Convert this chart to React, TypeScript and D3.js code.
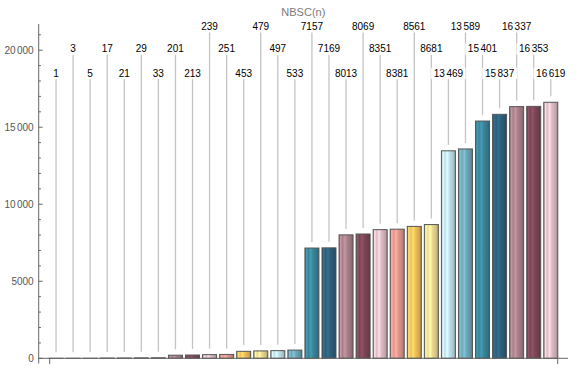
import React from 'react';
import * as d3 from 'd3';

const width = 578;
const height = 374;

const title = 'NBSC(n)';
const values = [1, 3, 5, 17, 21, 29, 33, 201, 213, 239, 251, 453, 479, 497, 533,
    7157, 7169, 8013, 8069, 8351, 8381, 8561, 8681, 13469, 13589, 15401, 15837, 16337, 16353, 16619];
// palette cycles every 10 bars
const palette = ['#e0968c', '#f0be5a', '#ecd890', '#bde0ea', '#6ea6b8',
    '#3a8599', '#2e5e7a', '#a8808a', '#7c4656', '#dcbcc4'];
const yTicks = [0, 5000, 10000, 15000, 20000];
const yMax = 21700;

const x0 = 38.7, yBase = 358.3, yTop = 24;
const rowBaselines = [30, 52.3, 76.7];

// label row: alternate bottom/middle first, then cycle top/middle/bottom
const labelRow = (i: number) => i < 9 ? (i % 2 === 0 ? 2 : 1) : (i - 9) % 3;

const x = d3.scaleBand<number>()
    .domain(values.map((_, i) => i))
    .range([47.5, 559.3])
    .paddingInner(0.18)
    .paddingOuter(0.09);

const y = d3.scaleLinear().domain([0, yMax]).range([yBase, yTop]);

const minorTicks = d3.range(0, yMax, 1000).filter(v => v % 5000 !== 0);

// split 5 digit numbers like Mathematica does (tiny gap before the last 3 digits)
const NumText = ({ v }: { v: number }) => {
    const s = String(v);
    if (s.length < 5) return <>{s}</>;
    return <>{s.slice(0, s.length - 3)}<tspan dx={1.5}>{s.slice(-3)}</tspan></>;
};

const gradStops = (c: string) => {
    const col = d3.color(c)!;
    return [
        [0, col.darker(0.9)],
        [0.1, col.brighter(0.5)],
        [0.25, col],
        [0.42, col.brighter(0.45)],
        [0.58, col],
        [0.85, col.darker(0.35)],
        [1, col.darker(0.9)],
    ] as [number, d3.Color][];
};

const App = () => {
    const bw = x.bandwidth();
    return (
        <svg width={width} height={height} style={{ position: 'absolute', left: 0, top: 0, background: '#fff' }}
            fontFamily="'Liberation Sans', Arial, sans-serif">
            <defs>
                {palette.map((c, k) => (
                    <linearGradient key={k} id={`g${k}`} x1="0" x2="1" y1="0" y2="0">
                        {gradStops(c).map(([o, cc], j) => (
                            <stop key={j} offset={o} stopColor={cc.formatHex()} />
                        ))}
                    </linearGradient>
                ))}
            </defs>

            <text x={(x0 + 568) / 2} y={16} textAnchor="middle" fontSize={11} fill="#7a7a7a">{title}</text>

            {/* callout lines */}
            {values.map((v, i) => {
                const cx = x(i)! + bw / 2;
                return <line key={i} x1={cx} x2={cx} y1={rowBaselines[labelRow(i)] + 2} y2={y(v) - 6}
                    stroke="#c4c4c4" strokeWidth={1.3} />;
            })}

            {/* bars */}
            {values.map((v, i) => (
                <rect key={i} x={x(i)} y={y(v)} width={bw} height={Math.max(0, yBase - y(v))}
                    fill={`url(#g${i % 10})`} stroke="#555" strokeWidth={1} />
            ))}

            {/* labels */}
            {values.map((v, i) => {
                const cx = x(i)! + bw / 2;
                const by = rowBaselines[labelRow(i)];
                const s = String(v);
                const tw = s.length * 5.6 + (s.length >= 5 ? 1.5 : 0);
                return (
                    <g key={i}>
                        <rect x={cx - tw / 2 - 2.5} y={by - 9} width={tw + 5} height={11.5} fill="#fff" />
                        <text x={cx} y={by} textAnchor="middle" fontSize={10} fill="#000"><NumText v={v} /></text>
                    </g>
                );
            })}

            {/* axes */}
            <g stroke="#666" strokeWidth={1}>
                <line x1={x0} x2={x0} y1={yTop} y2={363.5} />
                <line x1={x0} x2={568} y1={yBase} y2={yBase} />
                <line x1={49.7} x2={49.7} y1={yBase} y2={364} />
                <line x1={557.7} x2={557.7} y1={yBase} y2={364} />
                {yTicks.map(t => <line key={t} x1={x0} x2={x0 + 4} y1={y(t)} y2={y(t)} />)}
                {minorTicks.map(t => <line key={t} x1={x0} x2={x0 + 2.2} y1={y(t)} y2={y(t)} />)}
            </g>
            {yTicks.map(t => (
                <text key={t} x={x0 - 5} y={y(t) + 3.5} textAnchor="end" fontSize={10} fill="#555"><NumText v={t} /></text>
            ))}
        </svg>
    );
};

export default App;
